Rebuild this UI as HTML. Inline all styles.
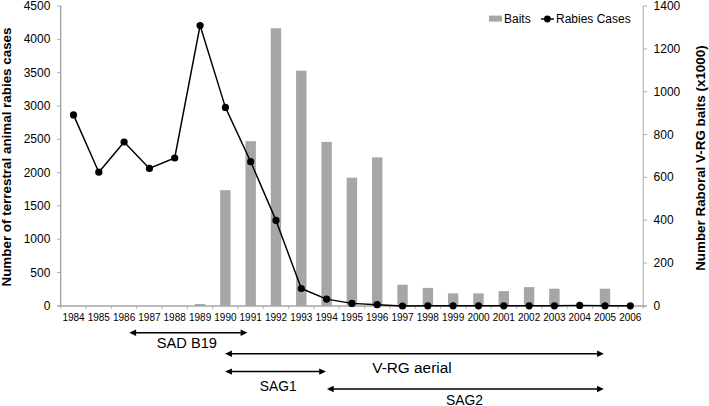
<!DOCTYPE html>
<html lang="en"><head><meta charset="utf-8"><title>Rabies cases and vaccine baits</title>
<style>html,body{margin:0;padding:0;background:#fff}svg{display:block}text{font-family:"Liberation Sans",Arial,sans-serif;fill:#000}.b{font-weight:bold}</style></head><body>
<svg width="709" height="406" viewBox="0 0 709 406">
<rect width="709" height="406" fill="#fff"/>
<g fill="#a6a6a6">
<rect x="194.85" y="304.0" width="10.4" height="1.8"/>
<rect x="220.16" y="190.2" width="10.4" height="115.6"/>
<rect x="245.47" y="141.2" width="10.4" height="164.6"/>
<rect x="270.78" y="28.3" width="10.4" height="277.5"/>
<rect x="296.09" y="70.7" width="10.4" height="235.1"/>
<rect x="321.40" y="141.9" width="10.4" height="163.9"/>
<rect x="346.71" y="177.7" width="10.4" height="128.1"/>
<rect x="372.02" y="157.4" width="10.4" height="148.4"/>
<rect x="397.33" y="284.7" width="10.4" height="21.1"/>
<rect x="422.64" y="287.9" width="10.4" height="17.9"/>
<rect x="447.95" y="293.4" width="10.4" height="12.4"/>
<rect x="473.26" y="293.4" width="10.4" height="12.4"/>
<rect x="498.57" y="291.1" width="10.4" height="14.7"/>
<rect x="523.88" y="287.1" width="10.4" height="18.7"/>
<rect x="549.19" y="288.7" width="10.4" height="17.1"/>
<rect x="599.81" y="288.7" width="10.4" height="17.1"/>
</g>
<path d="M60.7 5.6V306.40000000000003" stroke="#8e8e8e" stroke-width="1.1" fill="none"/>
<path d="M57.1 306.0H647.0" stroke="#a6a6a6" stroke-width="1.4" fill="none"/>
<path d="M643.2 5.6V306.40000000000003" stroke="#a8a8a8" stroke-width="1" fill="none"/>
<g stroke="#a0a0a0" stroke-width="0.9" fill="none">
<path d="M57.1 272.50H60.7"/>
<path d="M57.1 239.20H60.7"/>
<path d="M57.1 205.90H60.7"/>
<path d="M57.1 172.60H60.7"/>
<path d="M57.1 139.30H60.7"/>
<path d="M57.1 106.00H60.7"/>
<path d="M57.1 72.70H60.7"/>
<path d="M57.1 39.40H60.7"/>
<path d="M57.1 6.10H60.7"/>
<path d="M643.2 262.99h3.8"/>
<path d="M643.2 220.17h3.8"/>
<path d="M643.2 177.36h3.8"/>
<path d="M643.2 134.54h3.8"/>
<path d="M643.2 91.73h3.8"/>
<path d="M643.2 48.91h3.8"/>
<path d="M643.2 6.10h3.8"/>
<path d="M60.70 305.8v2.9"/>
<path d="M86.03 305.8v2.9"/>
<path d="M111.35 305.8v2.9"/>
<path d="M136.68 305.8v2.9"/>
<path d="M162.00 305.8v2.9"/>
<path d="M187.33 305.8v2.9"/>
<path d="M212.66 305.8v2.9"/>
<path d="M237.98 305.8v2.9"/>
<path d="M263.31 305.8v2.9"/>
<path d="M288.63 305.8v2.9"/>
<path d="M313.96 305.8v2.9"/>
<path d="M339.29 305.8v2.9"/>
<path d="M364.61 305.8v2.9"/>
<path d="M389.94 305.8v2.9"/>
<path d="M415.27 305.8v2.9"/>
<path d="M440.59 305.8v2.9"/>
<path d="M465.92 305.8v2.9"/>
<path d="M491.24 305.8v2.9"/>
<path d="M516.57 305.8v2.9"/>
<path d="M541.90 305.8v2.9"/>
<path d="M567.22 305.8v2.9"/>
<path d="M592.55 305.8v2.9"/>
<path d="M617.87 305.8v2.9"/>
<path d="M643.20 305.8v2.9"/>
</g>
<g font-size="12" text-anchor="end">
<text x="50.4" y="309.8">0</text>
<text x="50.4" y="276.5">500</text>
<text x="50.4" y="243.2">1000</text>
<text x="50.4" y="209.9">1500</text>
<text x="50.4" y="176.6">2000</text>
<text x="50.4" y="143.3">2500</text>
<text x="50.4" y="110.0">3000</text>
<text x="50.4" y="76.7">3500</text>
<text x="50.4" y="43.4">4000</text>
<text x="50.4" y="10.1">4500</text>
</g>
<g font-size="12">
<text x="653.6" y="309.8">0</text>
<text x="653.6" y="267.0">200</text>
<text x="653.6" y="224.2">400</text>
<text x="653.6" y="181.4">600</text>
<text x="653.6" y="138.5">800</text>
<text x="653.6" y="95.7">1000</text>
<text x="653.6" y="52.9">1200</text>
<text x="653.6" y="10.1">1400</text>
</g>
<g font-size="10" text-anchor="middle">
<text x="73.5" y="321.4">1984</text>
<text x="98.8" y="321.4">1985</text>
<text x="124.1" y="321.4">1986</text>
<text x="149.4" y="321.4">1987</text>
<text x="174.7" y="321.4">1988</text>
<text x="200.1" y="321.4">1989</text>
<text x="225.4" y="321.4">1990</text>
<text x="250.7" y="321.4">1991</text>
<text x="276.0" y="321.4">1992</text>
<text x="301.3" y="321.4">1993</text>
<text x="326.6" y="321.4">1994</text>
<text x="351.9" y="321.4">1995</text>
<text x="377.2" y="321.4">1996</text>
<text x="402.5" y="321.4">1997</text>
<text x="427.8" y="321.4">1998</text>
<text x="453.1" y="321.4">1999</text>
<text x="478.5" y="321.4">2000</text>
<text x="503.8" y="321.4">2001</text>
<text x="529.1" y="321.4">2002</text>
<text x="554.4" y="321.4">2003</text>
<text x="579.7" y="321.4">2004</text>
<text x="605.0" y="321.4">2005</text>
<text x="630.3" y="321.4">2006</text>
</g>
<polyline points="73.5,114.9 98.8,172.2 124.1,142.0 149.4,168.4 174.7,158.0 200.1,25.5 225.4,107.4 250.7,161.7 276.0,220.4 301.3,288.5 326.6,299.1 351.9,303.4 377.2,304.7 402.5,306.0 427.8,305.8 453.1,305.8 478.5,305.8 503.8,305.8 529.1,305.8 554.4,305.8 579.7,305.4 605.0,305.8 630.3,305.8" fill="none" stroke="#000" stroke-width="1.45" stroke-linejoin="round"/>
<g fill="#000">
<circle cx="73.5" cy="114.9" r="3.6"/>
<circle cx="98.8" cy="172.2" r="3.6"/>
<circle cx="124.1" cy="142.0" r="3.6"/>
<circle cx="149.4" cy="168.4" r="3.6"/>
<circle cx="174.7" cy="158.0" r="3.6"/>
<circle cx="200.1" cy="25.5" r="3.6"/>
<circle cx="225.4" cy="107.4" r="3.6"/>
<circle cx="250.7" cy="161.7" r="3.6"/>
<circle cx="276.0" cy="220.4" r="3.6"/>
<circle cx="301.3" cy="288.5" r="3.6"/>
<circle cx="326.6" cy="299.1" r="3.6"/>
<circle cx="351.9" cy="303.4" r="3.6"/>
<circle cx="377.2" cy="304.7" r="3.6"/>
<circle cx="402.5" cy="306.0" r="3.6"/>
<circle cx="427.8" cy="305.8" r="3.6"/>
<circle cx="453.1" cy="305.8" r="3.6"/>
<circle cx="478.5" cy="305.8" r="3.6"/>
<circle cx="503.8" cy="305.8" r="3.6"/>
<circle cx="529.1" cy="305.8" r="3.6"/>
<circle cx="554.4" cy="305.8" r="3.6"/>
<circle cx="579.7" cy="305.4" r="3.6"/>
<circle cx="605.0" cy="305.8" r="3.6"/>
<circle cx="630.3" cy="305.8" r="3.6"/>
</g>
<rect x="489" y="15.6" width="13" height="6" fill="#a6a6a6"/>
<text x="504" y="22.6" font-size="12">Baits</text>
<path d="M541 19H554" stroke="#000" stroke-width="1.45"/><circle cx="547.4" cy="19" r="3.4"/>
<text x="556" y="22.6" font-size="12">Rabies Cases</text>
<text class="b" font-size="13.4" text-anchor="middle" transform="translate(11.0 157.0) rotate(-90)">Number of terrestral animal rabies cases</text>
<text class="b" font-size="13.4" text-anchor="middle" transform="translate(704.5 158.1) rotate(-90)">Number Raboral V-RG baits (x1000)</text>
<path d="M135.1 332.7H241.6" stroke="#000" stroke-width="1.5"/><path d="M129.3 332.7l6.8 -3.2v6.4z"/><path d="M247.4 332.7l-6.8 -3.2v6.4z"/>
<path d="M230.9 353.7H598.1" stroke="#000" stroke-width="1.5"/><path d="M225.1 353.7l6.8 -3.2v6.4z"/><path d="M603.9 353.7l-6.8 -3.2v6.4z"/>
<path d="M230.9 371.6H320.2" stroke="#000" stroke-width="1.5"/><path d="M225.1 371.6l6.8 -3.2v6.4z"/><path d="M326.0 371.6l-6.8 -3.2v6.4z"/>
<path d="M332.7 389.0H598.0" stroke="#000" stroke-width="1.5"/><path d="M326.9 389.0l6.8 -3.2v6.4z"/><path d="M603.8 389.0l-6.8 -3.2v6.4z"/>
<text x="156.7" y="347.9" font-size="15.2" textLength="60.3" lengthAdjust="spacingAndGlyphs">SAD B19</text>
<text x="372.3" y="372.9" font-size="15.2" textLength="79.3" lengthAdjust="spacingAndGlyphs">V-RG aerial</text>
<text x="259.8" y="390.6" font-size="15.2" textLength="36.9" lengthAdjust="spacingAndGlyphs">SAG1</text>
<text x="446.1" y="404.9" font-size="15.2" textLength="37.0" lengthAdjust="spacingAndGlyphs">SAG2</text>
</svg></body></html>
